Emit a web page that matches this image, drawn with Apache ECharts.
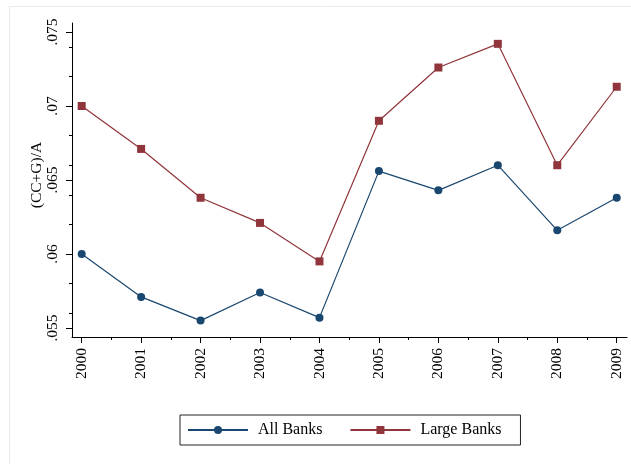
<!DOCTYPE html>
<html>
<head>
<meta charset="utf-8">
<script src="https://cdn.jsdelivr.net/npm/echarts@6/dist/echarts.min.js"></script>
<style>
html,body{margin:0;padding:0;background:#fff;}
#chart{width:631px;height:464px;}
</style>
</head>
<body>
<div id="chart"></div>
<script>
var years = [2000, 2001, 2002, 2003, 2004, 2005, 2006, 2007, 2008, 2009];
var allBanks = [0.0600, 0.0571, 0.0555, 0.0574, 0.0557, 0.0656, 0.0643, 0.0660, 0.0616, 0.0638];
var largeBanks = [0.0700, 0.0671, 0.0638, 0.0621, 0.0595, 0.0690, 0.0726, 0.0742, 0.0660, 0.0713];
var yTicks = [0.055, 0.060, 0.065, 0.070, 0.075];
var yMinorTicks = [0.056, 0.058, 0.060, 0.062, 0.064, 0.066, 0.068, 0.070, 0.072, 0.074];
var xMinorTicks = [2000.5, 2001.5, 2002.5, 2003.5, 2004.5, 2005.5, 2006.5, 2007.5, 2008.5];
var seriesNames = ['All Banks', 'Large Banks'];
var yTitle = '(CC+G)/A';

var FONT = '"Liberation Serif", "DejaVu Serif", serif';
var X_MIN = 1999.837, X_MAX = 2009.173;
var Y_MIN = 0.054392, Y_MAX = 0.075608;

function pairs(vals) { return years.map(function (y, i) { return [y, vals[i]]; }); }

var chart = echarts.init(document.getElementById('chart'), null, {renderer: 'canvas'});
chart.setOption({
  animation: false,
  backgroundColor: '#fff',
  graphic: [{
    type: 'rect', silent: true, z: -10,
    shape: {x: 9.5, y: 6.5, width: 700, height: 600},
    style: {fill: 'none', stroke: '#e4ecec', lineWidth: 1}
  }],
  grid: {left: 72, right: 4, top: 23, bottom: 127, containLabel: false},
  xAxis: [{
    type: 'value', min: X_MIN, max: X_MAX,
    axisLine: {show: true, lineStyle: {color: '#000', width: 1}},
    axisTick: {show: true, length: 6, customValues: years, lineStyle: {color: '#000', width: 1}},
    axisLabel: {show: true, customValues: years, rotate: 90, margin: 11,
      color: '#000', fontFamily: FONT, fontSize: 15.5,
      formatter: function (v) { return String(Math.round(v)); }},
    splitLine: {show: false}
  }, {
    type: 'value', min: X_MIN, max: X_MAX, position: 'bottom',
    axisLine: {show: false},
    axisTick: {show: true, length: 3, customValues: xMinorTicks, lineStyle: {color: '#000', width: 1}},
    axisLabel: {show: false},
    splitLine: {show: false}
  }],
  yAxis: [{
    type: 'value', min: Y_MIN, max: Y_MAX,
    name: yTitle, nameLocation: 'middle', nameRotate: 90, nameGap: 27,
    nameMoveOverlap: false,
    nameTextStyle: {color: '#000', fontFamily: FONT, fontSize: 15.5, padding: [0, 0, 0, 10]},
    axisLine: {show: true, lineStyle: {color: '#000', width: 1}},
    axisTick: {show: true, length: 6, customValues: yTicks, lineStyle: {color: '#000', width: 1}},
    axisLabel: {show: true, customValues: yTicks, rotate: 90, margin: 11,
      color: '#000', fontFamily: FONT, fontSize: 15.5,
      formatter: function (v) { return String(parseFloat(v.toFixed(3))).replace(/^0/, ''); }},
    splitLine: {show: false}
  }, {
    type: 'value', min: Y_MIN, max: Y_MAX, position: 'left',
    axisLine: {show: false},
    axisTick: {show: true, length: 3, customValues: yMinorTicks, lineStyle: {color: '#000', width: 1}},
    axisLabel: {show: false},
    splitLine: {show: false}
  }],
  legend: {
    left: 180, top: 415, orient: 'horizontal',
    padding: [7, 19, 7, 7],
    itemWidth: 60, itemHeight: 10, itemGap: 27,
    borderColor: '#222', borderWidth: 1,
    textStyle: {color: '#000', fontFamily: FONT, fontSize: 16, lineHeight: 16, padding: [0, 0, 0, 5]},
    data: seriesNames
  },
  series: [{
    name: seriesNames[0], type: 'line', data: pairs(allBanks),
    symbol: 'circle', symbolSize: 8,
    lineStyle: {color: '#1a476f', width: 1.2},
    itemStyle: {color: '#1a476f'}
  }, {
    name: seriesNames[1], type: 'line', data: pairs(largeBanks),
    symbol: 'rect', symbolSize: 8,
    lineStyle: {color: '#90353b', width: 1.2},
    itemStyle: {color: '#90353b'}
  }]
});
</script>
</body>
</html>
